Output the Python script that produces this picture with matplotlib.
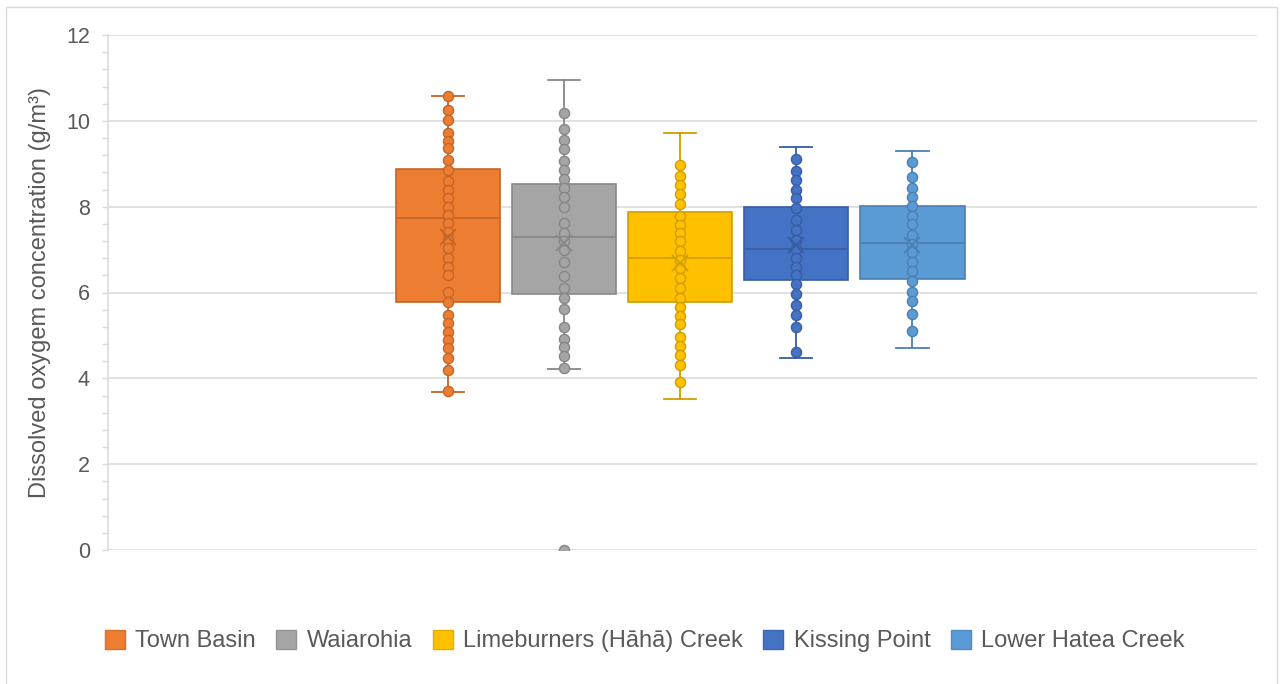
import matplotlib
matplotlib.use("Agg")
import matplotlib.pyplot as plt
import matplotlib.patches as mpatches
from matplotlib.colors import to_rgb
from matplotlib.ticker import MultipleLocator
import numpy as np

plt.rcParams["font.family"] = ["Liberation Sans", "DejaVu Sans"]

sites = ["Town Basin", "Waiarohia", "Limeburners (Hāhā) Creek", "Kissing Point", "Lower Hatea Creek"]
colors = ["#ED7D31", "#A5A5A5", "#FFC000", "#4472C4", "#5B9BD5"]

# box summary per site (g/m3)
q1 = [5.78, 5.97, 5.78, 6.30, 6.32]
median = [7.73, 7.29, 6.80, 7.02, 7.15]
q3 = [8.88, 8.52, 7.87, 8.00, 8.01]
mean = [7.30, 7.16, 6.69, 7.11, 7.11]
whisker_low = [3.69, 4.21, 3.51, 4.47, 4.70]
whisker_high = [10.59, 10.94, 9.71, 9.38, 9.29]
outliers = [[], [0.0], [], [], []]

# individual samples
town_basin = [10.58, 10.26, 10.02, 9.71, 9.52, 9.36, 9.09, 8.86, 8.59, 8.39, 8.20, 8.00,
              7.81, 7.62, 7.42, 7.23, 7.03, 6.80, 6.60, 6.41, 6.02, 5.79, 5.48, 5.28,
              5.09, 4.90, 4.70, 4.47, 4.20, 3.70]
waiarohia = [10.18, 9.81, 9.56, 9.34, 9.07, 8.86, 8.64, 8.43, 8.22, 8.00, 7.62, 7.38,
             7.19, 6.99, 6.72, 6.39, 6.10, 5.87, 5.61, 5.19, 4.91, 4.72, 4.51, 4.25]
limeburners = [8.97, 8.72, 8.51, 8.29, 8.06, 7.79, 7.58, 7.38, 7.19, 6.97, 6.76, 6.57,
               6.33, 6.10, 5.88, 5.67, 5.46, 5.26, 4.97, 4.76, 4.55, 4.31, 3.91]
kissing_point = [9.11, 8.82, 8.61, 8.39, 8.20, 7.96, 7.69, 7.46, 7.23, 7.01, 6.80, 6.60,
                 6.41, 6.20, 5.97, 5.71, 5.48, 5.19, 4.62]
lower_hatea = [9.04, 8.70, 8.43, 8.22, 8.02, 7.79, 7.59, 7.34, 7.13, 6.94, 6.72, 6.50,
               6.27, 6.02, 5.80, 5.49, 5.10]
samples = [town_basin, waiarohia, limeburners, kissing_point, lower_hatea]


def darker(c, f=0.82):
    r, g, b = to_rgb(c)
    return (r * f, g * f, b * f)


W, H = 1282, 684
fig = plt.figure(figsize=(W / 100, H / 100), dpi=100)
ax = fig.add_axes([108 / W, 1 - 550 / H, (1257 - 108) / W, (550 - 35) / H])

# chart frame
fig.patches.append(mpatches.Rectangle((6 / W, -0.05), (1277 - 6) / W, 1 - 7 / H + 0.05,
                                      transform=fig.transFigure, fill=False,
                                      edgecolor="#D9D9D9", linewidth=1.0))

positions = np.arange(len(sites))
stats = []
for i in range(len(sites)):
    stats.append(dict(med=median[i], q1=q1[i], q3=q3[i], mean=mean[i],
                      whislo=whisker_low[i], whishi=whisker_high[i], fliers=outliers[i]))

for i, st in enumerate(stats):
    c = colors[i]
    ec = darker(c)
    ax.bxp([st], positions=[positions[i]], widths=0.9, capwidths=0.28, patch_artist=True,
           showmeans=False, showfliers=True,
           boxprops=dict(facecolor=c, edgecolor=ec, linewidth=1.2),
           medianprops=dict(color=ec, linewidth=1.2),
           whiskerprops=dict(color=ec, linewidth=1.3),
           capprops=dict(color=ec, linewidth=1.3),
           flierprops=dict(marker="o", markerfacecolor=c, markeredgecolor=ec,
                           markersize=7.3, markeredgewidth=1.0),
           zorder=2)
    ax.plot(np.full(len(samples[i]), positions[i]), samples[i], "o", color=c,
            markerfacecolor=c, markeredgecolor=ec, markersize=7.3, markeredgewidth=1.0,
            linestyle="none", zorder=3)
    ax.plot(positions[i], mean[i], "x", color=ec, markersize=12, markeredgewidth=1.3, zorder=4)

ax.set_xlim(-2.93, 6.97)
ax.set_ylim(0, 12)
ax.set_xticks([])
ax.yaxis.set_major_locator(MultipleLocator(2))
ax.yaxis.set_minor_locator(MultipleLocator(0.4))
ax.grid(axis="y", which="major", color="#D9D9D9", linewidth=1.1, zorder=0)
ax.set_axisbelow(True)
for side in ["top", "right", "bottom"]:
    ax.spines[side].set_visible(False)
ax.spines["left"].set_color("#D9D9D9")
ax.spines["left"].set_linewidth(1.1)
ax.tick_params(axis="y", which="both", length=4, width=1.0, color="#D9D9D9",
               labelcolor="#595959", labelsize=15.5, pad=9)

ax.set_ylabel("Dissolved oxygem concentration (g/m³)", fontsize=17, color="#595959")
ax.yaxis.set_label_coords(-0.05, 0.5)

handles = [mpatches.Patch(facecolor=c, edgecolor=darker(c, 0.9), linewidth=1.0) for c in colors]
fig.legend(handles, sites, loc="center", bbox_to_anchor=(0.503, 1 - 641 / H), ncol=5,
           frameon=False, fontsize=17, labelcolor="#595959",
           handlelength=0.85, handleheight=0.85, handletextpad=0.45, columnspacing=0.85)

fig.savefig("out.png", dpi=100)
